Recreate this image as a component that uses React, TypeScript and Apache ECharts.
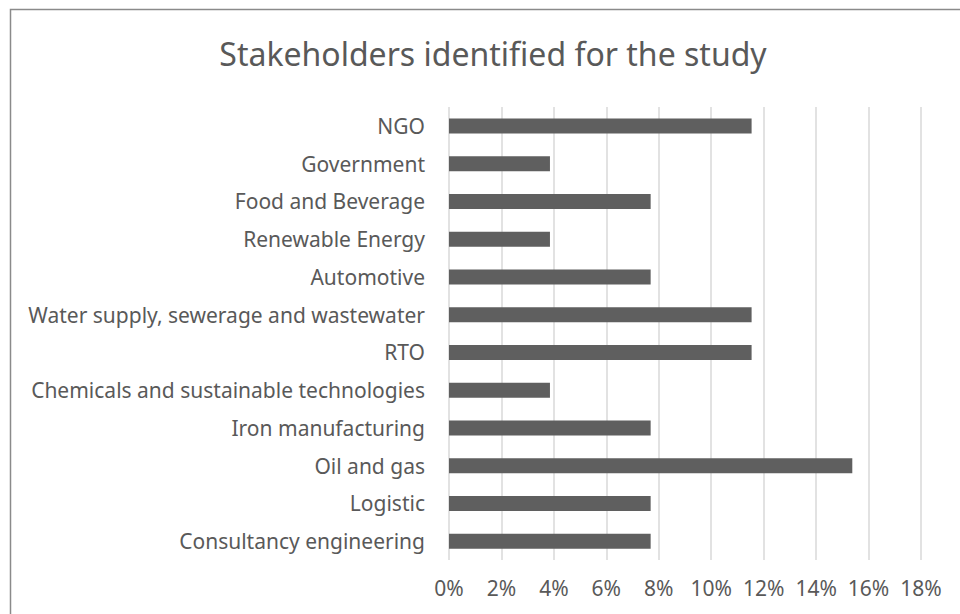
import React, { useEffect, useRef } from "react";
import * as echarts from "echarts";

const categories = [
  "NGO",
  "Government",
  "Food and Beverage",
  "Renewable Energy",
  "Automotive",
  "Water supply, sewerage and wastewater",
  "RTO",
  "Chemicals and sustainable technologies",
  "Iron manufacturing",
  "Oil and gas",
  "Logistic",
  "Consultancy engineering",
];

const shares = [11.54, 3.85, 7.69, 3.85, 7.69, 11.54, 11.54, 3.85, 7.69, 15.38, 7.69, 7.69];

const titleText = "Stakeholders identified for the study";

const FONT = "'Noto Sans', sans-serif";
const TEXT_COLOR = "#595959";

export default function App() {
  const ref = useRef<HTMLDivElement>(null);
  useEffect(() => {
    if (!ref.current) return;
    const chart = echarts.init(ref.current, null, { renderer: "svg" });
    chart.setOption({
      animation: false,
      backgroundColor: "#ffffff",
      textStyle: { fontFamily: FONT },
      title: {
        text: titleText,
        left: 488,
        top: 32,
        textAlign: "center",
        textStyle: { fontFamily: FONT, fontSize: 32, fontWeight: "normal", color: TEXT_COLOR },
      },
      graphic: [
        {
          type: "rect",
          shape: { x: 10.5, y: 9.5, width: 1000, height: 700 },
          style: { fill: "none", stroke: "#8a8a8a", lineWidth: 1.5 },
          silent: true,
          z: -1,
        },
      ],
      grid: { left: 449, right: 39, top: 107, bottom: 54, containLabel: false },
      xAxis: {
        type: "value",
        min: 0,
        max: 18,
        interval: 2,
        axisLine: { show: false },
        axisTick: { show: false },
        splitLine: { show: true, lineStyle: { color: "#d9d9d9", width: 1.5 } },
        axisLabel: {
          formatter: (v: number) => `${v}%`,
          color: TEXT_COLOR,
          fontSize: 21,
          fontFamily: FONT,
          margin: 17,
        },
      },
      yAxis: {
        type: "category",
        data: categories,
        inverse: true,
        axisLine: { show: false },
        axisTick: { show: false },
        axisLabel: { color: TEXT_COLOR, fontSize: 21, fontFamily: FONT, margin: 24 },
      },
      series: [
        {
          type: "bar",
          data: shares,
          barWidth: 15,
          itemStyle: { color: "#5f5f5f" },
        },
      ],
    });
    return () => chart.dispose();
  }, []);
  return (
    <div
      ref={ref}
      style={{ position: "fixed", left: 0, top: 0, width: 960, height: 614 }}
    />
  );
}
